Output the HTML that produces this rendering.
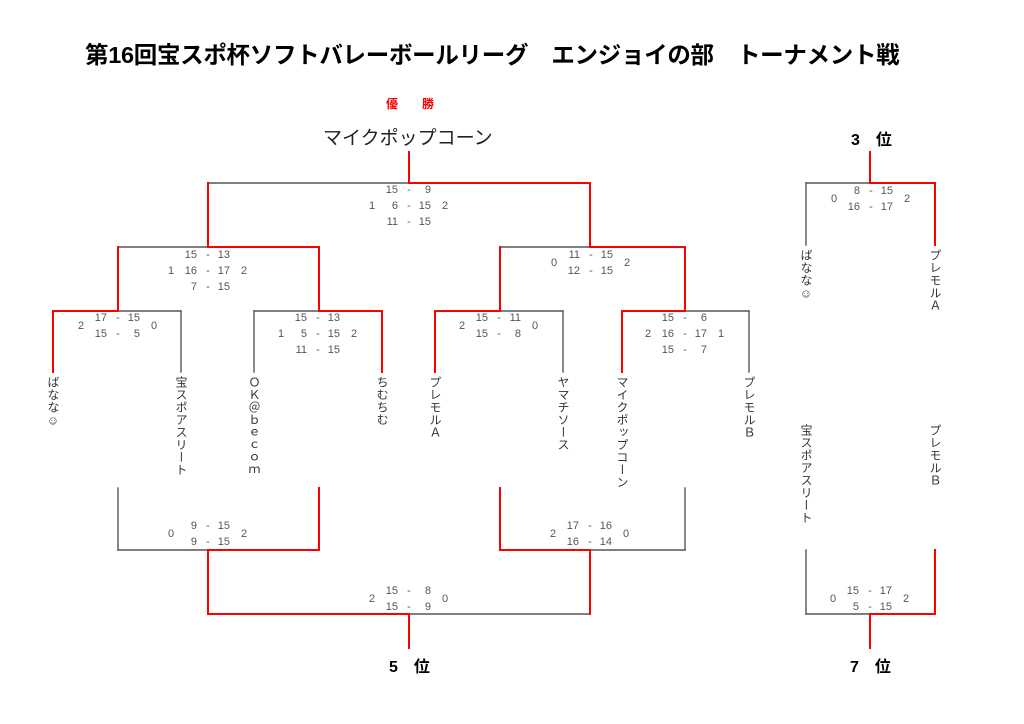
<!DOCTYPE html>
<html><head><meta charset="utf-8"><style>
html,body{margin:0;padding:0;background:#fff}
body{width:1024px;height:724px;position:relative;overflow:hidden;font-family:"Liberation Sans","Noto Sans CJK JP",sans-serif}
.t{position:absolute;white-space:nowrap}
.n{position:absolute;writing-mode:vertical-rl;text-orientation:upright;font-size:12px;line-height:12px;color:#333;width:12px;letter-spacing:0.5px}
.s{position:absolute;font-size:11px;color:#555;line-height:12px}
svg{position:absolute;left:0;top:0}
</style></head><body>
<svg width="1024" height="724" fill="none" stroke-linecap="square">
<g stroke="#555" stroke-width="1.4">
<line x1="208" y1="183" x2="409" y2="183"/>
<line x1="118" y1="247" x2="208" y2="247"/>
<line x1="118" y1="311" x2="181" y2="311"/><line x1="181" y1="311" x2="181" y2="372"/>
<line x1="254" y1="311" x2="319" y2="311"/><line x1="254" y1="311" x2="254" y2="372"/>
<line x1="500" y1="247" x2="590" y2="247"/>
<line x1="500" y1="311" x2="563" y2="311"/><line x1="563" y1="311" x2="563" y2="372"/>
<line x1="685" y1="311" x2="749" y2="311"/><line x1="749" y1="311" x2="749" y2="372"/>
<line x1="118" y1="488" x2="118" y2="550"/><line x1="118" y1="550" x2="208" y2="550"/>
<line x1="685" y1="488" x2="685" y2="550"/><line x1="590" y1="550" x2="685" y2="550"/>
<line x1="409" y1="614" x2="590" y2="614"/>
<line x1="806" y1="183" x2="870" y2="183"/><line x1="806" y1="183" x2="806" y2="245"/>
<line x1="806" y1="550" x2="806" y2="614"/><line x1="806" y1="614" x2="870" y2="614"/>
</g>
<g stroke="#f00" stroke-width="2">
<polyline points="409,152 409,183 590,183 590,247 685,247 685,311 622,311 622,372"/>
<polyline points="208,183 208,247 319,247 319,311 382,311 382,372"/>
<polyline points="118,247 118,311 53,311 53,372"/>
<polyline points="500,247 500,311 435,311 435,372"/>
<polyline points="319,488 319,550 208,550 208,614 409,614 409,648"/>
<polyline points="500,488 500,550 590,550 590,614"/>
<polyline points="870,152 870,183 935,183 935,245"/>
<polyline points="935,550 935,614 870,614 870,648"/>
</g>
</svg>
<div class="t" style="left:85px;top:36px;font-size:23.5px;font-weight:bold;color:#000;letter-spacing:-0.3px">第16回宝スポ杯ソフトバレーボールリーグ　エンジョイの部　トーナメント戦</div>
<div class="t" style="left:386px;top:95px;font-size:12px;font-weight:bold;color:#f00">優　　勝</div>
<div class="t" style="left:323px;top:123px;font-size:19px;color:#222">マイクポップコーン</div>
<div class="t" style="left:851px;top:126px;font-size:16px;font-weight:bold">3　位</div>
<div class="t" style="left:389px;top:653px;font-size:16px;font-weight:bold">5　位</div>
<div class="t" style="left:850px;top:653px;font-size:16px;font-weight:bold">7　位</div>
<div class="n" style="left:47px;top:376px">ばなな☺</div>
<div class="n" style="left:175px;top:376px">宝スポアスリート</div>
<div class="n" style="left:248px;top:376px">ＯＫ＠ｂｅｃｏｍ</div>
<div class="n" style="left:376px;top:376px">ちむちむ</div>
<div class="n" style="left:429px;top:376px">プレモルＡ</div>
<div class="n" style="left:557px;top:376px">ヤマチソース</div>
<div class="n" style="left:616px;top:376px">マイクポップコーン</div>
<div class="n" style="left:743px;top:376px">プレモルＢ</div>
<div class="n" style="left:800px;top:249px">ばなな☺</div>
<div class="n" style="left:929px;top:249px">プレモルＡ</div>
<div class="n" style="left:800px;top:424px">宝スポアスリート</div>
<div class="n" style="left:929px;top:424px">プレモルＢ</div>
<div id="sc"></div>
<script>
var M=[
[409,[190,206,222],[["15","9"],["6","15"],["11","15"]],"1","2",206],
[208,[255,271,287],[["15","13"],["16","17"],["7","15"]],"1","2",271],
[118,[318,334],[["17","15"],["15","5"]],"2","0",326],
[318,[318,334,350],[["15","13"],["5","15"],["11","15"]],"1","2",334],
[591,[255,271],[["11","15"],["12","15"]],"0","2",263],
[499,[318,334],[["15","11"],["15","8"]],"2","0",326],
[685,[318,334,350],[["15","6"],["16","17"],["15","7"]],"2","1",334],
[871,[191,207],[["8","15"],["16","17"]],"0","2",199],
[208,[526,542],[["9","15"],["9","15"]],"0","2",534],
[590,[526,542],[["17","16"],["16","14"]],"2","0",534],
[409,[591,607],[["15","8"],["15","9"]],"2","0",599],
[870,[591,607],[["15","17"],["5","15"]],"0","2",599]];
var h="";
function sp(x,y,t,al){var l=al=="r"?(x-30):(x-15);return '<div class="s" style="left:'+l+'px;top:'+(y-6)+'px;width:30px;text-align:'+(al=="r"?"right":"center")+'">'+t+'</div>';}
M.forEach(function(m){var d=m[0];m[1].forEach(function(y,i){h+=sp(d-11,y,m[2][i][0],"r");h+=sp(d,y,"-","c");h+=sp(d+22,y,m[2][i][1],"r");});h+=sp(d-37,m[5],m[3],"c");h+=sp(d+36,m[5],m[4],"c");});
document.getElementById("sc").innerHTML=h;
</script>
</body></html>
